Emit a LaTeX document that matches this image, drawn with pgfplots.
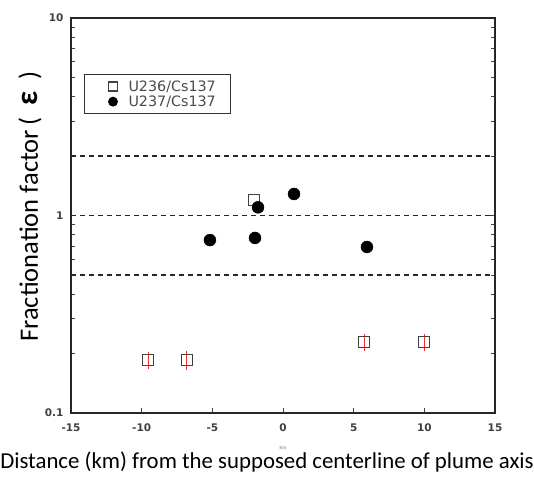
\documentclass[border=0pt]{standalone}
\usepackage{fontspec}
\setmainfont{Carlito}
\newfontfamily\djv{DejaVu Sans}
\usepackage{pgfplots}
\pgfplotsset{compat=1.18}
\begin{document}
\begin{tikzpicture}
\begin{axis}[
  name=ax,
  scale only axis,
  width=424pt, height=395pt,
  xmin=-15, xmax=15,
  ymode=log, ymin=0.1, ymax=10,
  xtick={-15,-10,...,15},
  ytick={0.1,1,10},
  yticklabels={0.1,1,10},
  log ticks with fixed point,
  xtick pos=left, ytick pos=both,
  tick align=inside,
  major tick length=5pt, minor tick length=4pt,
  axis line style={line width=1.6pt, black!85},
  every tick/.style={line width=0.9pt, black!75},
  ticklabel style={font=\djv\bfseries\fontsize{10.5}{12}\selectfont, text=black!75},
  xticklabel style={yshift=-7pt},
  yticklabel style={xshift=-4pt},
  /pgf/number format/assume math mode=true,
  xlabel={Distance (km) from the supposed centerline of plume axis},
  xlabel style={font=\fontsize{22.8}{24}\selectfont, at={(axis description cs:0.5,0)}, anchor=center, xshift=-16pt, yshift=-49pt},
  ylabel={Fractionation factor\,(\hspace{0.45em}{\fontsize{31}{31}\selectfont\textbf{ε}}\hspace{0.45em})},
  ylabel style={font=\fontsize{26.5}{28}\selectfont, at={(axis description cs:0,0.5)}, anchor=center, yshift=41pt, xshift=9pt},
  legend style={at={(axis description cs:0.0307,0.858)}, anchor=north west, draw=black!80, line width=0.8pt,
    font=\djv\fontsize{14.3}{15}\selectfont, text=black!70, inner xsep=6pt, inner ysep=4pt,
    row sep=-1pt, cells={anchor=west}},
  legend cell align=left,
  legend image code/.code={
    \path (-22pt,0pt);
    \draw[#1, mark size=4.5pt] plot coordinates {(0pt,0pt)};
  },
  clip=false,
]
% reference levels at 0.5, 1 and 2
\addplot[line width=1.4pt, black!85, dash pattern=on 5pt off 4pt, forget plot] coordinates {(-15,2) (15,2)};
\addplot[line width=1.4pt, black!85, dash pattern=on 5pt off 4pt, forget plot] coordinates {(-15,1) (15,1)};
\addplot[line width=1.4pt, black!85, dash pattern=on 5pt off 4pt, forget plot] coordinates {(-15,0.5) (15,0.5)};

% U236/Cs137 with uncertainties
\addplot[only marks, mark=square, mark size=5.5pt, black!75, line width=1.2pt,
  error bars/.cd, y dir=both, y explicit,
  error bar style={red!85, line width=0.8pt}, error mark=none]
  coordinates {
    (-9.55,0.185) +- (0,0.018)
    (-6.8,0.185) +- (0,0.02)
    (5.73,0.229) +- (0,0.022)
    (9.98,0.229) +- (0,0.022)
    (-2.05,1.20) +- (0,0)
  };
\addlegendentry{\kern9pt U236/Cs137\kern7pt}

% U237/Cs137
\addplot[only marks, mark=*, mark size=6pt, black]
  coordinates {
    (-5.17,0.751)
    (-1.98,0.770)
    (-1.77,1.10)
    (0.78,1.285)
    (5.94,0.693)
  };
\addlegendentry{\kern9pt U237/Cs137\kern7pt}

\node[font=\fontsize{5}{5}\selectfont, text=black!55] at (axis cs:0,0.1) [yshift=-35pt] {Km};
\end{axis}
\pgfresetboundingbox
\path ([xshift=-71pt,yshift=-63pt]ax.south west) rectangle ([xshift=39pt,yshift=18pt]ax.north east);
\end{tikzpicture}
\end{document}
